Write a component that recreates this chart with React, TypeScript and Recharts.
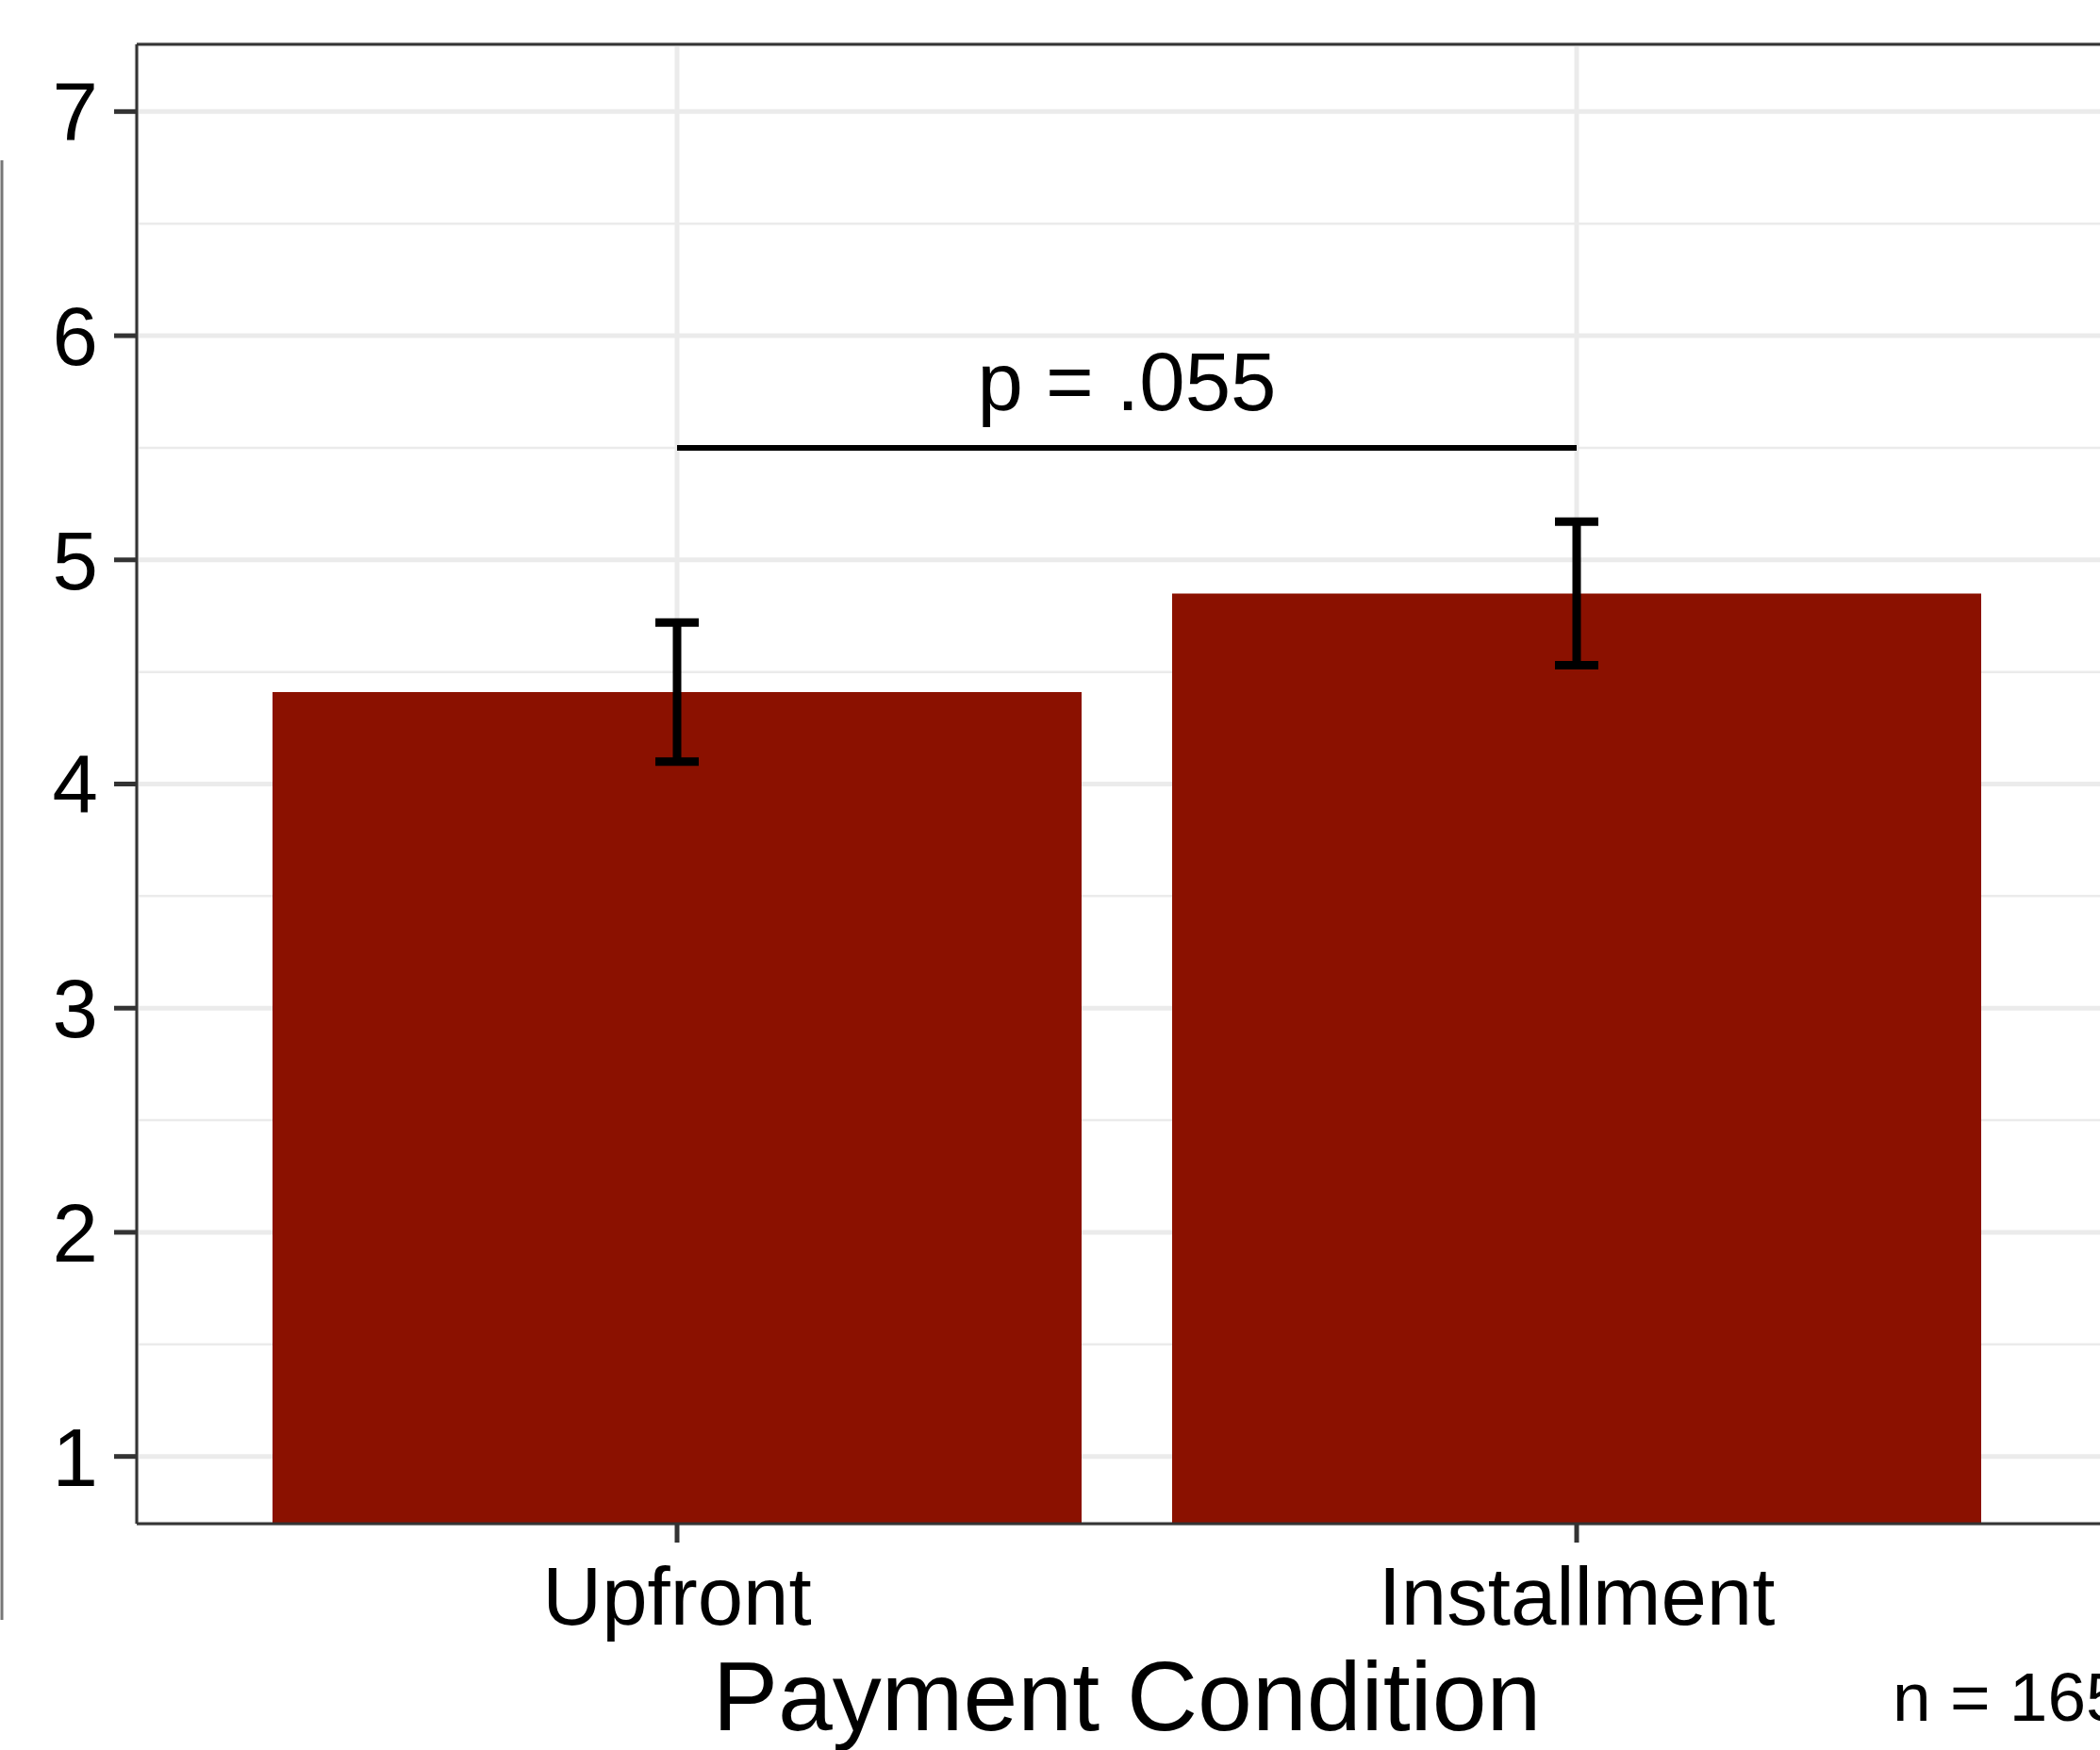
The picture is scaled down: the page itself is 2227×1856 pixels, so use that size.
import { BarChart, Bar, XAxis, YAxis, CartesianGrid, ReferenceLine, ErrorBar } from 'recharts';

// values
const conditions = ['Upfront', 'Installment'];
const means = [4.41, 4.85];
const ciLow = [4.1, 4.53];
const ciHigh = [4.72, 5.17];

const yTicks = [1, 2, 3, 4, 5, 6, 7];
const yMinorTicks = [1.5, 2.5, 3.5, 4.5, 5.5, 6.5];
const yDomain = [0.7, 7.3];

const bracketY = 5.5;
const pLabel = 'p = .055';
const xTitle = 'Payment Condition';
const sampleNote = 'n = 165';

const data = conditions.map((c, i) => ({
  condition: c,
  mean: means[i],
  err: [means[i] - ciLow[i], ciHigh[i] - means[i]],
}));

const FONT = '"Liberation Sans", Arial, Helvetica, sans-serif';

export default function App() {
  return (
    <div
      style={{
        position: 'absolute',
        left: 0,
        top: 0,
        width: 2227,
        height: 1856,
        overflow: 'hidden',
        background: '#fff',
        fontFamily: FONT,
      }}
    >
      <BarChart
        width={2245}
        height={1856}
        data={data}
        margin={{ top: 47, right: 0, bottom: 0, left: 0 }}
      >
        {/* minor grid, from a hidden axis carrying the half steps */}
        <CartesianGrid yAxisId="minor" vertical={false} stroke="#ebebeb" strokeWidth={2.5} />
        {/* major grid */}
        <CartesianGrid stroke="#ebebeb" strokeWidth={5} />
        <XAxis
          dataKey="condition"
          height={240}
          padding={{ left: 96, right: 96 }}
          tickSize={20}
          tickMargin={25}
          axisLine={{ stroke: '#333333', strokeWidth: 3 }}
          tickLine={{ stroke: '#333333', strokeWidth: 5 }}
          tick={{ fontSize: 87, fill: '#000' }}
          label={{ value: xTitle, position: 'insideBottom', offset: 21, fontSize: 104, fill: '#000' }}
        />
        <YAxis
          width={145}
          domain={yDomain}
          ticks={yTicks}
          allowDataOverflow
          tickSize={24}
          tickMargin={17}
          axisLine={{ stroke: '#333333', strokeWidth: 3 }}
          tickLine={{ stroke: '#333333', strokeWidth: 5 }}
          tick={{ fontSize: 87, fill: '#000' }}
        />
        <YAxis yAxisId="minor" hide domain={yDomain} ticks={yMinorTicks} allowDataOverflow />
        <Bar dataKey="mean" fill="#8b1100" barSize={858} isAnimationActive={false}>
          <ErrorBar dataKey="err" direction="y" width={23} stroke="#000" strokeWidth={9} />
        </Bar>
        <ReferenceLine
          segment={[
            { x: conditions[0], y: bracketY },
            { x: conditions[1], y: bracketY },
          ]}
          stroke="#000"
          strokeWidth={6}
          label={{ value: pLabel, position: 'top', offset: 40, fontSize: 87, fill: '#000' }}
        />
        {/* top panel border */}
        <ReferenceLine y={yDomain[1]} stroke="#333333" strokeWidth={3} />
      </BarChart>
      <svg
        width={2227}
        height={1856}
        style={{ position: 'absolute', left: 0, top: 0, pointerEvents: 'none' }}
      >
        <line x1={2} y1={170} x2={2} y2={1718} stroke="#777" strokeWidth={3} />
        <text x={2007} y={1825} fontSize={73} fill="#000" fontFamily={FONT}>
          {sampleNote}
        </text>
      </svg>
    </div>
  );
}
